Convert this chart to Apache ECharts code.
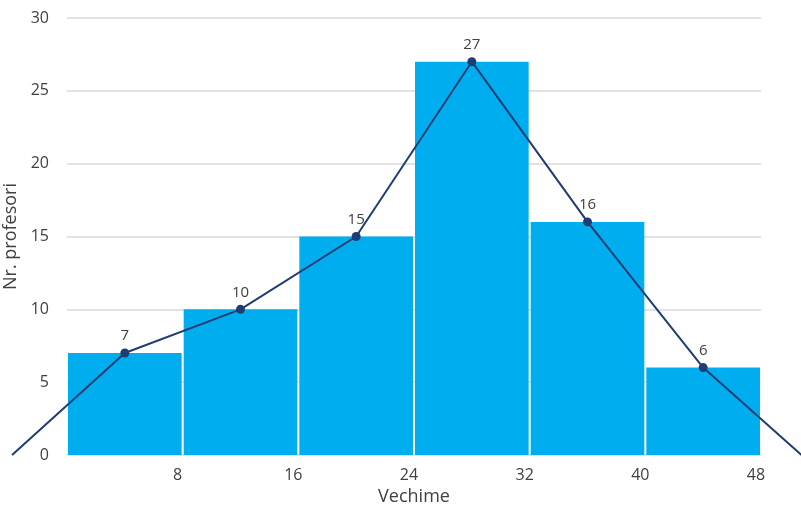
<!DOCTYPE html>
<html><head><meta charset="utf-8">
<script src="https://cdn.jsdelivr.net/npm/echarts@6/dist/echarts.min.js"></script>
<style>html,body{margin:0;padding:0;background:#fff}#c{width:801px;height:507px}</style>
</head><body><div id="c"></div>
<script>
const binStarts = [0, 8, 16, 24, 32, 40];
const binEnds = [8, 16, 24, 32, 40, 48];
const frequencies = [7, 10, 15, 27, 16, 6];
const midpoints = [4, 12, 20, 28, 36, 44];
const polygonStart = [-3.8, 0];
const polygonEnd = [50.8, 0];
const xTicks = [8, 16, 24, 32, 40, 48];

const barData = binStarts.map((s, i) => [s, binEnds[i], frequencies[i]]);
const lineData = [
  {value: polygonStart, symbolSize: 0, label: {show: false}},
  ...midpoints.map((m, i) => ({value: [m, frequencies[i]]})),
  {value: polygonEnd, symbolSize: 0, label: {show: false}}
];

const W = 801, GL = 67, GR = 40;
const xMin = 0, xMax = 48;
const pxPerUnit = (W - GL - GR) / (xMax - xMin);
// full-width overlay axis with the same scale, so the polygon can run past the plot area
const x2Min = xMin - GL / pxPerUnit;
const x2Max = xMax + GR / pxPerUnit;

const font = 'Open Sans';
const txt = '#404040';
const chart = echarts.init(document.getElementById('c'), null, {renderer: 'canvas'});
chart.setOption({
  animation: false,
  grid: [
    {left: GL, right: GR, top: 18, bottom: 52, containLabel: false, outerBoundsMode: 'none'},
    {left: 0, right: 0, top: 18, bottom: 52, containLabel: false, outerBoundsMode: 'none'}
  ],
  xAxis: [{
    type: 'value', min: xMin, max: xMax, interval: 8, gridIndex: 0,
    name: 'Vechime', nameLocation: 'middle', nameGap: 33,
    nameTextStyle: {color: txt, fontSize: 18, fontFamily: font},
    axisLine: {show: false}, axisTick: {show: false}, splitLine: {show: false},
    axisLabel: {
      color: txt, fontSize: 16, fontFamily: font, margin: 12,
      padding: [0, 10, 0, 0],
      formatter: v => xTicks.includes(v) ? String(v) : ''
    }
  }, {
    type: 'value', min: x2Min, max: x2Max, gridIndex: 1, show: false
  }],
  yAxis: [{
    type: 'value', min: 0, max: 30, interval: 5, gridIndex: 0,
    name: 'Nr. profesori', nameLocation: 'middle', nameGap: 41,
    nameTextStyle: {color: txt, fontSize: 18, fontFamily: font},
    axisLine: {show: false}, axisTick: {show: false},
    splitLine: {lineStyle: {color: '#d9d9d9', width: 1.5}},
    axisLabel: {color: txt, fontSize: 16, fontFamily: font, margin: 18}
  }, {
    type: 'value', min: 0, max: 30, gridIndex: 1, show: false
  }],
  series: [
    {
      type: 'custom',
      xAxisIndex: 0, yAxisIndex: 0,
      data: barData,
      encode: {x: [0, 1], y: 2},
      renderItem: function (params, api) {
        const p0 = api.coord([api.value(0), api.value(2)]);
        const p1 = api.coord([api.value(1), 0]);
        return {
          type: 'rect',
          shape: {x: p0[0] + 1, y: p0[1], width: p1[0] - p0[0] - 2, height: p1[1] - p0[1]},
          style: {fill: '#00aeef'}
        };
      },
      z: 1
    },
    {
      type: 'line',
      xAxisIndex: 1, yAxisIndex: 1,
      data: lineData,
      clip: false,
      symbol: 'circle',
      symbolSize: 9,
      lineStyle: {color: '#1f3c73', width: 2},
      itemStyle: {color: '#1f3c73'},
      label: {show: true, position: 'top', distance: 5, color: txt, fontSize: 15, fontFamily: font,
        formatter: p => p.value[1]},
      z: 3
    }
  ]
});
</script></body></html>
